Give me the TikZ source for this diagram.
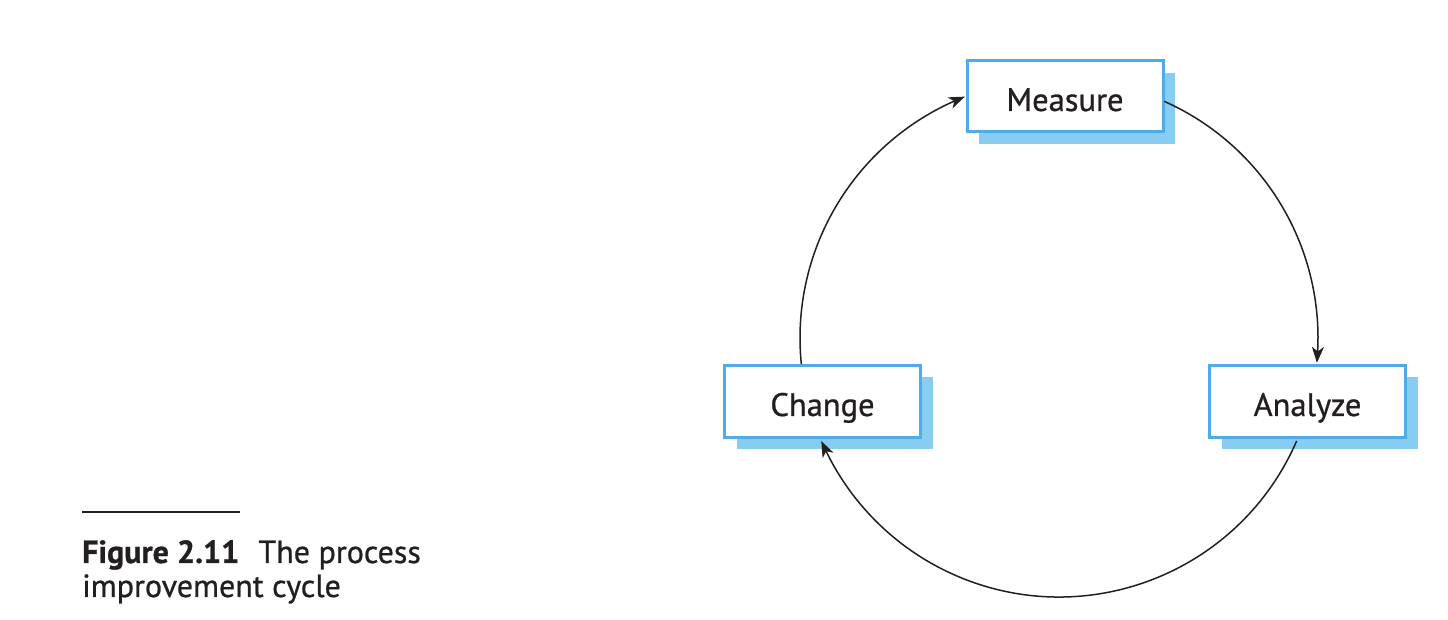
\documentclass[tikz,border=0pt]{standalone}
\usepackage{fontspec}
\setmainfont{PT Sans}
\newfontfamily\boxfont[FakeBold=0.8]{PT Sans}
\usetikzlibrary{arrows.meta,bending,shadows,calc}
\definecolor{boxblue}{RGB}{79,172,234}
\definecolor{shadowblue}{RGB}{134,205,241}
\definecolor{ink}{RGB}{35,31,32}
\tikzset{
  stagebox/.style={draw=boxblue, line width=3pt, fill=white, minimum width=196pt, minimum height=71pt,
    text height=33pt, text depth=4pt,
    font=\boxfont\fontsize{32.5}{38}\selectfont, text=ink,
    drop shadow={shadow xshift=12pt, shadow yshift=-12pt, fill=shadowblue, opacity=1}},
  cycle/.style={line width=1.5pt, draw=ink, -{Stealth[length=16pt,width=12pt,inset=4.5pt,bend]}},
  captext/.style={anchor=base west, inner sep=0pt, text=ink, font=\boxfont\fontsize{32}{36}\selectfont}
}
\begin{document}
\begin{tikzpicture}[x=1pt,y=1pt]
\useasboundingbox (0,0) rectangle (1448,620);
\coordinate (ctr) at (1059,282);
\node[stagebox] (measure) at (1065,523.5) {Measure};
\node[stagebox, minimum height=72pt] (change) at (822.5,218.5) {Change};
\node[stagebox, minimum height=72pt] (analyze) at (1307.5,218.5) {Analyze};
\coordinate (s1) at ([shift={(185.8:259pt)}]ctr);
\coordinate (s2) at ([shift={(66:259pt)}]ctr);
\coordinate (s3) at ([shift={(-23.4:259pt)}]ctr);
\draw[cycle] (s1) arc[start angle=185.8, end angle=111.3, radius=259pt];
\draw[cycle] (s2) arc[start angle=66, end angle=-5.5, radius=259pt];
\draw[cycle] (s3) arc[start angle=-23.4, end angle=-156.6, radius=259pt];
\coordinate (r1) at (82,108);
\coordinate (r2) at (240,108);
\draw[line width=1.3pt, ink] (r1) -- (r2);
\node[captext] (cap1) at (82,57) {\textbf{Figure 2.11}\hspace{0.6em}The process};
\node[captext] (cap2) at (82,23) {improvement cycle};
\end{tikzpicture}
\end{document}
